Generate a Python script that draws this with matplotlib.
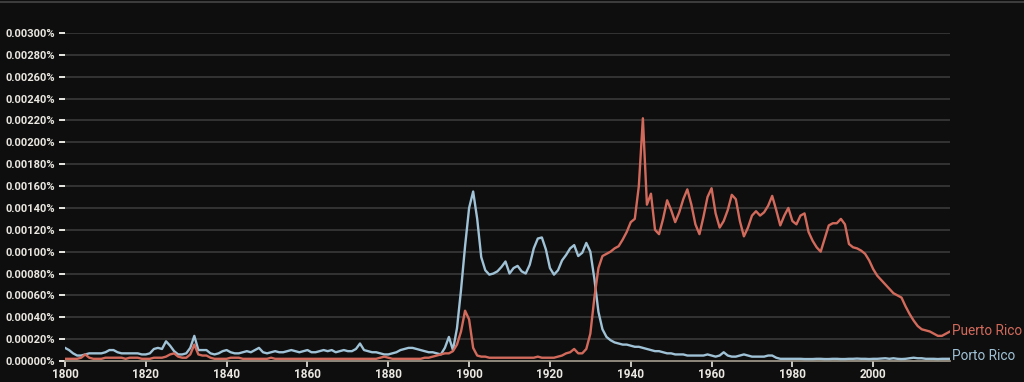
import numpy as np
from matplotlib import pyplot as plt
from matplotlib.lines import Line2D

years = list(range(1800, 2020))

# Porto Rico, share in percent, one value per year
porto_rico = [
    0.00012, 0.00010, 0.00007, 0.00005, 0.00005, 0.00006, 0.00007, 0.00007, 0.00007, 0.00007,
    0.00008, 0.00010, 0.00010, 0.00008, 0.00007, 0.00007, 0.00007, 0.00007, 0.00007, 0.00006,
    0.00006, 0.00007, 0.00011, 0.00012, 0.00011, 0.00018, 0.00014, 0.00009, 0.00006, 0.00006,
    0.00007, 0.00012, 0.00023, 0.00010, 0.00010, 0.00010, 0.00007, 0.00006, 0.00007, 0.00009,
    0.00010, 0.00008, 0.00007, 0.00007, 0.00008, 0.00009, 0.00008, 0.00010, 0.00012, 0.00008,
    0.00007, 0.00008, 0.00009, 0.00008, 0.00008, 0.00009, 0.00010, 0.00009, 0.00008, 0.00009,
    0.00010, 0.00008, 0.00008, 0.00009, 0.00010, 0.00009, 0.00010, 0.00008, 0.00009, 0.00010,
    0.00009, 0.00009, 0.00011, 0.00016, 0.00010, 0.00009, 0.00008, 0.00008, 0.00007, 0.00006,
    0.00006, 0.00007, 0.00008, 0.00010, 0.00011, 0.00012, 0.00012, 0.00011, 0.00010, 0.00009,
    0.00008, 0.00008, 0.00007, 0.00006, 0.00012, 0.00022, 0.00010, 0.00030, 0.00065, 0.00105,
    0.00140, 0.00155, 0.00130, 0.00095, 0.00083, 0.00079, 0.00080, 0.00082, 0.00086, 0.00091,
    0.00080, 0.00085, 0.00087, 0.00082, 0.00080, 0.00088, 0.00103, 0.00112, 0.00113, 0.00102,
    0.00085, 0.00079, 0.00083, 0.00092, 0.00097, 0.00103, 0.00106, 0.00096, 0.00099, 0.00108,
    0.00100, 0.00075, 0.00045, 0.00029, 0.00022, 0.00019, 0.00017, 0.00016, 0.00015, 0.00015,
    0.00014, 0.00013, 0.00013, 0.00012, 0.00011, 0.00010, 0.00009, 0.00009, 0.00008, 0.00007,
    0.00007, 0.00006, 0.00006, 0.00006, 0.00005, 0.00005, 0.00005, 0.00005, 0.00005, 0.00006,
    0.00005, 0.00004, 0.00005, 0.00008, 0.00005, 0.00004, 0.00004, 0.00005, 0.00006, 0.00005,
    0.00004, 0.00004, 0.00004, 0.00004, 0.00005, 0.00005, 0.00003, 0.00002, 0.00002, 0.00002,
    0.00002, 0.00002, 0.00002, 0.000018, 0.000018, 0.000018, 0.00002, 0.00002, 0.000018, 0.000018,
    0.00002, 0.00002, 0.000018, 0.000018, 0.00002, 0.00002, 0.000022, 0.00002, 0.00002, 0.000018,
    0.00002, 0.00002, 0.000022, 0.000025, 0.00002, 0.000025, 0.00002, 0.000018, 0.00002, 0.000025,
    0.00003, 0.000025, 0.000025, 0.00002, 0.00002, 0.00002, 0.000018, 0.00002, 0.00002, 0.00002,
]

# Puerto Rico
puerto_rico = [
    0.00002, 0.00002, 0.00002, 0.00002, 0.00003, 0.00006, 0.00003, 0.00002, 0.00002, 0.00002,
    0.00003, 0.00003, 0.00003, 0.00003, 0.00003, 0.00002, 0.00003, 0.00003, 0.00003, 0.00002,
    0.00002, 0.00002, 0.00003, 0.00003, 0.00003, 0.00004, 0.00006, 0.00007, 0.00004, 0.00003,
    0.00003, 0.00006, 0.00015, 0.00006, 0.00005, 0.00005, 0.00003, 0.00002, 0.00002, 0.00002,
    0.00002, 0.00003, 0.00003, 0.00003, 0.00002, 0.00002, 0.00002, 0.00002, 0.00002, 0.00002,
    0.00002, 0.00003, 0.00002, 0.00002, 0.00002, 0.00002, 0.00002, 0.00002, 0.00002, 0.00002,
    0.00002, 0.00002, 0.00002, 0.00002, 0.00002, 0.00002, 0.00002, 0.00002, 0.00002, 0.00002,
    0.00002, 0.00002, 0.00002, 0.00002, 0.00002, 0.00002, 0.00002, 0.00002, 0.00003, 0.00004,
    0.00003, 0.00002, 0.00002, 0.00002, 0.00002, 0.00002, 0.00002, 0.00002, 0.00002, 0.00003,
    0.00003, 0.00004, 0.00005, 0.00006, 0.00007, 0.00007, 0.00009, 0.00015, 0.00027, 0.00046,
    0.00038, 0.00012, 0.00005, 0.00004, 0.00004, 0.00003, 0.00003, 0.00003, 0.00003, 0.00003,
    0.00003, 0.00003, 0.00003, 0.00003, 0.00003, 0.00003, 0.00003, 0.00004, 0.00003, 0.00003,
    0.00003, 0.00003, 0.00004, 0.00005, 0.00007, 0.00008, 0.00011, 0.00007, 0.00007, 0.00011,
    0.00025, 0.00058, 0.00085, 0.00096, 0.00098, 0.00100, 0.00103, 0.00105, 0.00111, 0.00118,
    0.00127, 0.00130, 0.00160, 0.00222, 0.00143, 0.00153, 0.00120, 0.00116, 0.00130, 0.00147,
    0.00138, 0.00127, 0.00136, 0.00148, 0.00157, 0.00143, 0.00125, 0.00116, 0.00132, 0.00150,
    0.00158, 0.00135, 0.00122, 0.00128, 0.00138, 0.00152, 0.00148, 0.00128, 0.00114, 0.00122,
    0.00133, 0.00137, 0.00133, 0.00136, 0.00142, 0.00151, 0.00138, 0.00124, 0.00133, 0.00140,
    0.00128, 0.00125, 0.00133, 0.00135, 0.00118, 0.00110, 0.00104, 0.00100, 0.00112, 0.00124,
    0.00126, 0.00126, 0.00130, 0.00125, 0.00107, 0.00104, 0.00103, 0.00101, 0.00098, 0.00092,
    0.00084, 0.00078, 0.00074, 0.00070, 0.00066, 0.00062, 0.00060, 0.00058, 0.00050, 0.00043,
    0.00037, 0.00032, 0.00029, 0.00028, 0.00027, 0.00025, 0.00023, 0.00023, 0.00025, 0.00027,
]

y_ticks = [i * 0.0002 for i in range(16)]
x_ticks = list(range(1800, 2001, 20))

bg = '#0e0e0e'
red = '#d26a5c'
blue = '#a0c2d6'
txt = '#ebe8e2'

plt.rcParams['font.family'] = ['Roboto', 'DejaVu Sans']

fig = plt.figure(figsize=(10.24, 3.82), dpi=100, facecolor=bg)
ax = fig.add_axes([65 / 1024, 21 / 382, 885 / 1024, 328 / 382], facecolor=bg)

for v in y_ticks[1:]:
    ax.axhline(v, color='#3a3a3a', lw=1.2, zorder=1)

ax.plot(years, porto_rico, color=blue, lw=1.7, zorder=3, solid_joinstyle='round')
ax.plot(years, puerto_rico, color=red, lw=1.7, zorder=4, solid_joinstyle='round')

ax.set_xlim(1800, 2019)
ax.set_ylim(0, 0.003)
ax.set_yticks(y_ticks)
ax.set_yticklabels(['%.5f%%' % v for v in y_ticks])
ax.set_xticks(x_ticks)
ax.set_xticklabels([str(x) for x in x_ticks])
ax.tick_params(axis='y', colors=txt, length=4, width=1.4, pad=3, labelsize=8)
ax.tick_params(axis='x', colors=txt, length=4, width=1.2, pad=1, labelsize=8.5)
for lab in ax.get_yticklabels() + ax.get_xticklabels():
    lab.set_fontweight('bold')

for s in ['top', 'right', 'left']:
    ax.spines[s].set_visible(False)
ax.spines['bottom'].set_color('#a49d8e')
ax.spines['bottom'].set_linewidth(1.2)

ax.text(2019.5, puerto_rico[-1], 'Puerto Rico', color=red, fontsize=9.8,
        va='center', ha='left', clip_on=False)
ax.text(2019.5, 0.00005, 'Porto Rico', color=blue, fontsize=9.8,
        va='center', ha='left', clip_on=False)

fig.add_artist(Line2D([0, 1], [0.996, 0.996], color='#3c3c3c', lw=1.5,
                      transform=fig.transFigure))

fig.savefig('out.png', dpi=100, facecolor=bg)
